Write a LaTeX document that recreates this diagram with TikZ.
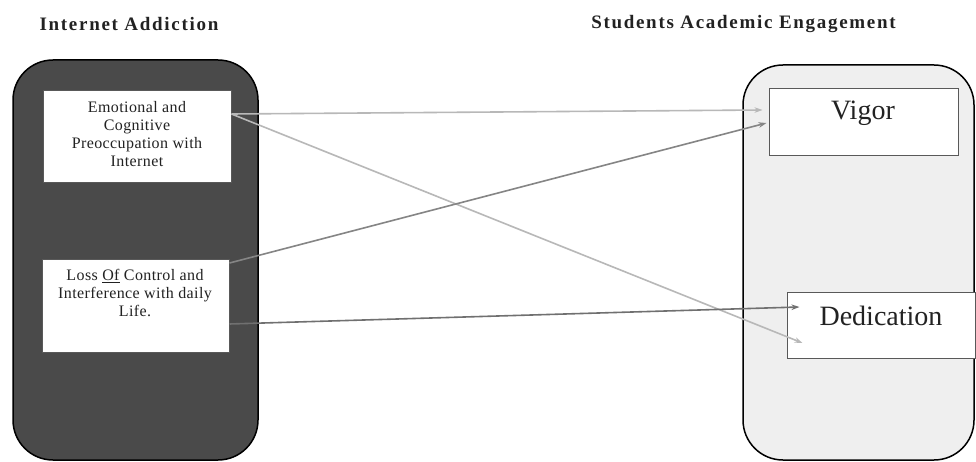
\documentclass[tikz,border=0pt]{standalone}
\usepackage{fontspec}
\setmainfont{Liberation Serif}
\usetikzlibrary{arrows.meta,calc}
\definecolor{darkfill}{HTML}{4A4A4A}
\definecolor{lightfill}{HTML}{EFEFEF}
\definecolor{arrlight}{HTML}{B8B8B8}
\definecolor{arrmid}{HTML}{858585}
\definecolor{arrdark}{HTML}{707070}
\definecolor{txt}{HTML}{222222}
\begin{document}
\begin{tikzpicture}[x=1pt,y=-1pt,
  bigbox/.style={draw=black, line width=1.5pt, rounded corners=40pt, inner sep=0pt},
  itembox/.style={draw=gray!70!black, fill=white, line width=1pt, inner sep=0pt},
  titletext/.style={text=txt, font=\fontsize{19}{21}\selectfont\bfseries\addfontfeature{LetterSpace=9}},
  smalltext/.style={text=txt, align=center, font=\fontsize{16}{18}\selectfont\addfontfeature{LetterSpace=2.5}},
  bigtext/.style={text=txt, anchor=base, font=\fontsize{28}{32}\selectfont},
  conn/.style={line width=1.6pt, -{Stealth[length=8pt,width=5.5pt]}}]
\useasboundingbox (0,0) rectangle (976,462);
\fill[white] (0,0) rectangle (976,462);
\node[titletext] (t1) at (129,24) {Internet Addiction};
\node[titletext] (t2) at (743.5,24) {Students Academic Engagement};
\node[bigbox, fill=darkfill, minimum width=245pt, minimum height=400pt] (L) at (135.5,260) {};
\node[bigbox, fill=lightfill, minimum width=231pt, minimum height=395pt] (R) at (858.5,262.5) {};
\node[itembox, minimum width=188pt, minimum height=92pt] (emo) at (137,137) {};
\node[smalltext] (emotxt) at (137,134.5) {Emotional and\\Cognitive\\Preoccupation with\\Internet};
\node[itembox, minimum width=187pt, minimum height=93pt] (loss) at (135.5,305.5) {};
\node[smalltext] (losstxt) at (135,293) {Loss \underline{Of} Control and\\Interference with daily\\Life.};
\node[itembox, minimum width=189pt, minimum height=67pt] (vig) at (863.5,122.5) {};
\node[bigtext] (vigtxt) at (863,120) {Vigor};
\node[itembox, minimum width=188pt, minimum height=66pt] (ded) at (881,325) {};
\node[bigtext] (dedtxt) at (881,325) {Dedication};
\draw[conn, arrlight] ([yshift=23pt]emo.east) -- ([xshift=-6pt,yshift=12.5pt]vig.west);
\draw[conn, arrlight] ([yshift=23pt]emo.east) -- ([xshift=16pt,yshift=-18pt]ded.west);
\draw[conn, arrmid] ([yshift=42.5pt]loss.east) -- ([xshift=-2pt,yshift=-0.5pt]vig.west);
\draw[conn, arrdark] ([yshift=-18.5pt]loss.east) -- ([xshift=13pt,yshift=18pt]ded.west);
\end{tikzpicture}
\end{document}
